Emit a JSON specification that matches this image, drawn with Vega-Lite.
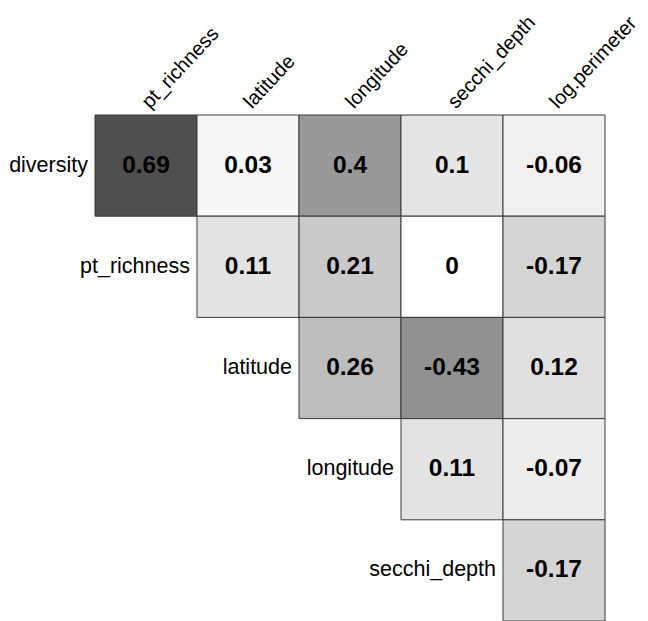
{
  "$schema": "https://vega.github.io/schema/vega-lite/v6.json",
  "width": 510,
  "height": 506,
  "autosize": {"type": "none"},
  "padding": {"left": 95, "top": 115, "right": 43, "bottom": 0},
  "background": "white",
  "config": {"view": {"stroke": null}, "font": "Liberation Sans"},
  "datasets": {
    "cells": [
      {"row": "diversity", "col": "pt_richness", "r": 0.69},
      {"row": "diversity", "col": "latitude", "r": 0.03},
      {"row": "diversity", "col": "longitude", "r": 0.4},
      {"row": "diversity", "col": "secchi_depth", "r": 0.1},
      {"row": "diversity", "col": "log.perimeter", "r": -0.06},
      {"row": "pt_richness", "col": "latitude", "r": 0.11},
      {"row": "pt_richness", "col": "longitude", "r": 0.21},
      {"row": "pt_richness", "col": "secchi_depth", "r": 0},
      {"row": "pt_richness", "col": "log.perimeter", "r": -0.17},
      {"row": "latitude", "col": "longitude", "r": 0.26},
      {"row": "latitude", "col": "secchi_depth", "r": -0.43},
      {"row": "latitude", "col": "log.perimeter", "r": 0.12},
      {"row": "longitude", "col": "secchi_depth", "r": 0.11},
      {"row": "longitude", "col": "log.perimeter", "r": -0.07},
      {"row": "secchi_depth", "col": "log.perimeter", "r": -0.17}
    ],
    "rowlabels": [
      {"row": "diversity", "col": "pt_richness"},
      {"row": "pt_richness", "col": "latitude"},
      {"row": "latitude", "col": "longitude"},
      {"row": "longitude", "col": "secchi_depth"},
      {"row": "secchi_depth", "col": "log.perimeter"}
    ]
  },
  "encoding": {
    "x": {
      "field": "col", "type": "nominal",
      "scale": {"domain": ["pt_richness", "latitude", "longitude", "secchi_depth", "log.perimeter"], "paddingInner": 0, "paddingOuter": 0},
      "axis": {"orient": "top", "title": null, "domain": false, "ticks": false, "labelAngle": -47, "labelAlign": "left", "labelBaseline": "alphabetic", "labelPadding": 6, "labelOffset": 4, "labelFontSize": 20, "labelColor": "black", "labelFont": "Liberation Sans"}
    },
    "y": {
      "field": "row", "type": "nominal",
      "scale": {"domain": ["diversity", "pt_richness", "latitude", "longitude", "secchi_depth"], "paddingInner": 0, "paddingOuter": 0},
      "axis": null
    }
  },
  "layer": [
    {
      "data": {"name": "cells"},
      "mark": {"type": "rect", "stroke": "#3a3a3a", "strokeWidth": 1},
      "encoding": {
        "color": {
          "field": "r", "type": "quantitative",
          "scale": {"domain": [-1, 0, 1], "range": ["black", "white", "black"], "interpolate": "rgb"},
          "legend": null
        }
      }
    },
    {
      "data": {"name": "cells"},
      "mark": {"type": "text", "fontSize": 24.5, "fontWeight": "bold", "color": "black", "font": "Liberation Sans"},
      "encoding": {
        "text": {"field": "r", "type": "nominal"}
      }
    },
    {
      "data": {"name": "rowlabels"},
      "mark": {"type": "text", "fontSize": 21.5, "color": "black", "align": "right", "dx": -7, "font": "Liberation Sans"},
      "encoding": {
        "x": {"field": "col", "type": "nominal", "bandPosition": 0},
        "text": {"field": "row", "type": "nominal"}
      }
    }
  ]
}
